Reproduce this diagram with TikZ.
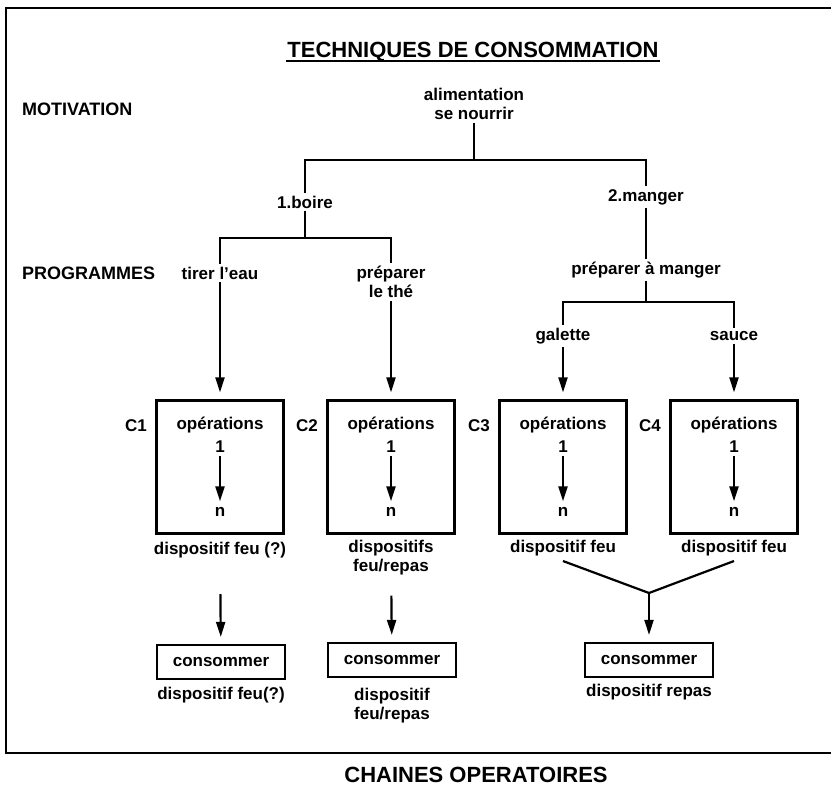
\documentclass[tikz,border=0pt]{standalone}
\usepackage{fontspec}
\setmainfont{Liberation Sans}
\usetikzlibrary{arrows.meta}
\tikzset{>={Triangle[length=15pt,width=9pt]}}
\tikzset{
    txt/.style={font=\bfseries\fontsize{17}{19}\selectfont, align=center, inner sep=2pt},
    rowlabel/.style={font=\bfseries\fontsize{18}{20}\selectfont, anchor=west, inner sep=0pt},
    ttl/.style={font=\bfseries\fontsize{22}{24}\selectfont, inner sep=0pt},
    opbox/.style={draw, minimum width=127pt, minimum height=133pt, inner sep=0pt},
    consbox/.style={txt, draw, minimum width=128pt, minimum height=34pt, inner sep=0pt}
}

\begin{document}
\begin{tikzpicture}[x=1pt,y=-1pt,line width=2.2pt]
    \clip (0,0) rectangle (831,789);
    \draw (6,8) rectangle (860,753);
    \node[ttl,anchor=base] (titre) at (473,58) {TECHNIQUES DE CONSOMMATION};
    \draw[line width=1.6pt] ([yshift=-3pt]titre.base west) -- ([yshift=-3pt]titre.base east);
    \node[rowlabel] (motiv) at (21,109) {MOTIVATION};
    \node[rowlabel] (progr) at (21,273) {PROGRAMMES};

    \node[txt] (alim) at (474,104) {alimentation\\se nourrir};
    \coordinate (j1) at (474,160);
    \node[txt] (boire) at (305,202) {1.boire};
    \node[txt] (manger) at (646,197) {2.manger};
    \draw (alim) -- (j1);
    \draw (boire) |- (j1) -| (manger);

    \coordinate (j2) at (305,238);
    \node[txt] (tirer) at (220,273) {tirer l'eau};
    \node[txt] (the) at (391,282) {préparer\\le thé};
    \draw (boire) -- (j2);
    \draw (tirer) |- (j2) -| (the);

    \node[txt] (prep) at (646,270) {préparer à manger};
    \coordinate (j3) at (646,302);
    \node[txt] (galette) at (563,336) {galette};
    \node[txt] (sauce) at (734,336) {sauce};
    \draw (manger) -- (prep);
    \draw (prep) -- (j3);
    \draw (galette) |- (j3) -| (sauce);

    \foreach \i/\x/\src in {1/220/tirer,2/391/the,3/563/galette,4/734/sauce} {
        \node[opbox] (box\i) at (\x,467) {};
        \node[txt] (ops\i) at (\x,425) {opérations};
        \node[txt] (un\i) at (\x,447) {1};
        \node[txt] (n\i) at (\x,512) {n};
        \node[txt] (c\i) at ({\x-84},426) {C\i};
        \draw[->,shorten >=3pt] (un\i) -- (n\i);
        \draw[->,shorten >=7pt] (\src) -- (box\i);
    }

    \node[txt] (disp1) at (220,550) {dispositif feu (?)};
    \node[txt] (disp2) at (391,558) {dispositifs\\feu/repas};
    \node[txt] (disp3) at (563,548) {dispositif feu};
    \node[txt] (disp4) at (734,548) {dispositif feu};

    \node[consbox] (cons1) at (221,662) {consommer};
    \node[consbox] (cons2) at (392,660) {consommer};
    \node[consbox] (cons3) at (649,660) {consommer};
    \draw[->,shorten <=33pt,shorten >=7pt] (disp1) -- (cons1);
    \draw[->,shorten <=17pt,shorten >=7pt] (disp2) -- (cons2);
    \coordinate (y3) at (649,593);
    \draw ([yshift=-2pt]disp3.south) -- (y3) -- ([yshift=-2pt]disp4.south);
    \draw[->,shorten >=7pt] (y3) -- (cons3);

    \node[txt] (sous1) at (221,695) {dispositif feu(?)};
    \node[txt] (sous2) at (392,706) {dispositif\\feu/repas};
    \node[txt] (sous3) at (649,692) {dispositif repas};
    \node[ttl] (chaines) at (476,775) {CHAINES OPERATOIRES};
\end{tikzpicture}
\end{document}
